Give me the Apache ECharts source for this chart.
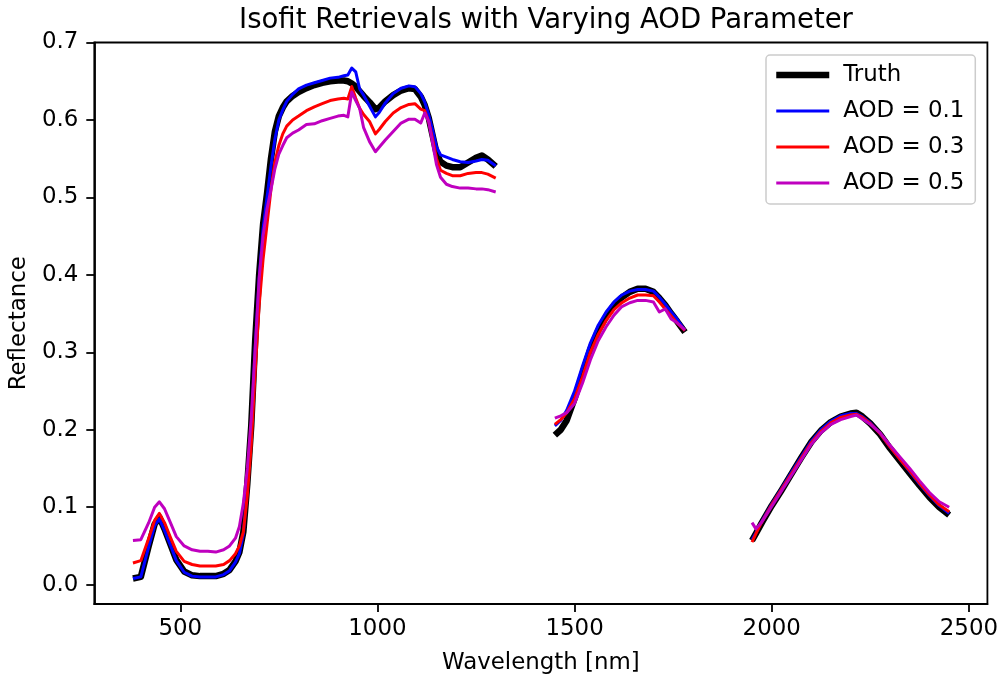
<!DOCTYPE html>
<html>
<head>
<meta charset="utf-8">
<script src="https://cdn.jsdelivr.net/npm/echarts@6/dist/echarts.min.js"></script>
<style>
html,body{margin:0;padding:0;background:#fff;}
#chart{width:1001px;height:681px;}
</style>
</head>
<body>
<div id="chart"></div>
<script>
// Wavelengths [nm]; null marks a gap between spectral segments
const wavelengths = [
  380, 400, 420, 435, 447,
  460, 475, 490, 510, 530,
  550, 570, 590, 610, 625,
  640, 650, 660, 670, 680,
  690, 700, 710, 720, 730,
  740, 750, 760, 770, 785,
  800, 820, 840, 860, 880,
  900, 915, 925, 935, 945,
  955, 965, 980, 995, 1005,
  1020, 1040, 1060, 1080, 1095,
  1110, 1120, 1130, 1140, 1150,
  1160, 1175, 1190, 1210, 1230,
  1250, 1265, 1280, 1300,
  null,
  1450, 1465, 1480, 1500, 1520,
  1540, 1560, 1580, 1600, 1620,
  1640, 1660, 1680, 1700, 1715,
  1730, 1745, 1760, 1780,
  null,
  1950, 1960, 1975, 2000, 2025,
  2050, 2075, 2100, 2125, 2150,
  2175, 2200, 2215, 2230, 2250,
  2275, 2300, 2325, 2350, 2375,
  2400, 2425, 2450
];

const truth = [
  0.008, 0.010, 0.050, 0.078, 0.087,
  0.072, 0.052, 0.032, 0.017, 0.012,
  0.011, 0.011, 0.011, 0.014, 0.019,
  0.030, 0.042, 0.068, 0.130, 0.205,
  0.315, 0.400, 0.465, 0.505, 0.550,
  0.585, 0.605, 0.616, 0.624, 0.631,
  0.636, 0.641, 0.645, 0.648, 0.650,
  0.651, 0.651, 0.650, 0.647, 0.643,
  0.637, 0.631, 0.623, 0.614, 0.616,
  0.624, 0.632, 0.638, 0.641, 0.640,
  0.630, 0.619, 0.603, 0.580, 0.557,
  0.546, 0.541, 0.539, 0.539, 0.545,
  0.551, 0.554, 0.549, 0.540,
  null,
  0.193, 0.200, 0.212, 0.240, 0.272,
  0.304, 0.328, 0.346, 0.361, 0.371,
  0.378, 0.382, 0.382, 0.378, 0.370,
  0.361, 0.350, 0.340, 0.326,
  null,
  0.057, 0.066, 0.080, 0.102, 0.122,
  0.143, 0.164, 0.184, 0.199, 0.210,
  0.217, 0.221, 0.222, 0.217, 0.208,
  0.194, 0.176, 0.160, 0.144, 0.128,
  0.113, 0.100, 0.090
];

const aod01 = [
  0.008, 0.010, 0.049, 0.076, 0.085,
  0.070, 0.051, 0.031, 0.016, 0.011,
  0.010, 0.010, 0.010, 0.013, 0.018,
  0.029, 0.040, 0.065, 0.125, 0.200,
  0.305, 0.395, 0.460, 0.500, 0.540,
  0.575, 0.600, 0.613, 0.624, 0.633,
  0.640, 0.645, 0.648, 0.651, 0.654,
  0.655, 0.657, 0.658, 0.667, 0.662,
  0.640, 0.632, 0.618, 0.604, 0.610,
  0.622, 0.634, 0.641, 0.644, 0.643,
  0.634, 0.623, 0.607, 0.587, 0.565,
  0.555, 0.552, 0.549, 0.546, 0.545,
  0.547, 0.549, 0.548, 0.541,
  null,
  0.205, 0.212, 0.225, 0.250, 0.282,
  0.312, 0.335, 0.352, 0.365, 0.374,
  0.379, 0.381, 0.381, 0.379, 0.371,
  0.362, 0.352, 0.343, 0.328,
  null,
  0.058, 0.067, 0.082, 0.104, 0.124,
  0.145, 0.165, 0.185, 0.200, 0.211,
  0.218, 0.221, 0.221, 0.217, 0.209,
  0.195, 0.178, 0.162, 0.146, 0.130,
  0.115, 0.102, 0.092
];

const aod03 = [
  0.028, 0.031, 0.060, 0.083, 0.092,
  0.080, 0.061, 0.043, 0.030, 0.026,
  0.024, 0.024, 0.024, 0.026, 0.031,
  0.040, 0.050, 0.068, 0.115, 0.180,
  0.275, 0.360, 0.420, 0.465, 0.510,
  0.546, 0.567, 0.582, 0.592, 0.600,
  0.605, 0.612, 0.617, 0.621, 0.625,
  0.627, 0.628, 0.627, 0.643, 0.628,
  0.615, 0.607, 0.598, 0.582, 0.588,
  0.598, 0.609, 0.616, 0.620, 0.621,
  0.614, 0.612, 0.598, 0.575, 0.550,
  0.535, 0.531, 0.528, 0.528, 0.531,
  0.532, 0.532, 0.530, 0.525,
  null,
  0.207, 0.213, 0.222, 0.240, 0.268,
  0.300, 0.323, 0.341, 0.355, 0.364,
  0.370, 0.374, 0.374, 0.373, 0.365,
  0.356, 0.347, 0.338, 0.328,
  null,
  0.055, 0.066, 0.081, 0.103, 0.123,
  0.143, 0.163, 0.183, 0.198, 0.209,
  0.216, 0.219, 0.220, 0.216, 0.208,
  0.195, 0.178, 0.162, 0.147, 0.131,
  0.116, 0.103, 0.094
];

const aod05 = [
  0.057, 0.058, 0.080, 0.100, 0.107,
  0.098, 0.080, 0.062, 0.050, 0.045,
  0.043, 0.043, 0.042, 0.045, 0.050,
  0.060, 0.075, 0.105, 0.150, 0.215,
  0.305, 0.395, 0.450, 0.485, 0.510,
  0.537, 0.556, 0.567, 0.577, 0.583,
  0.587, 0.594, 0.595, 0.599, 0.602,
  0.605, 0.606, 0.604, 0.636, 0.625,
  0.615, 0.590, 0.572, 0.559, 0.565,
  0.574, 0.585, 0.596, 0.601, 0.601,
  0.596, 0.609, 0.598, 0.570, 0.542,
  0.526, 0.517, 0.514, 0.512, 0.512,
  0.511, 0.511, 0.510, 0.507,
  null,
  0.215, 0.218, 0.222, 0.234, 0.260,
  0.290, 0.315, 0.333, 0.348, 0.359,
  0.364, 0.367, 0.367, 0.365, 0.352,
  0.356, 0.343, 0.338, 0.329,
  null,
  0.080, 0.072, 0.081, 0.101, 0.121,
  0.141, 0.161, 0.181, 0.196, 0.207,
  0.213, 0.217, 0.219, 0.214, 0.207,
  0.196, 0.180, 0.165, 0.150, 0.134,
  0.119, 0.107, 0.100
];

const seriesNames = ['Truth', 'AOD = 0.1', 'AOD = 0.3', 'AOD = 0.5'];
const xTicks = [500, 1000, 1500, 2000, 2500];
const yTicks = [0.0, 0.1, 0.2, 0.3, 0.4, 0.5, 0.6, 0.7];

const FONT = 'DejaVu Sans';
const FS = 22.9;
const COLORS = ['#000000', '#0000ff', '#ff0000', '#bf00bf'];
const WIDTHS = [6.5, 3, 3, 3];

function pairs(vals) {
  return wavelengths.map((w, i) => [w, vals[i]]);
}

const chart = echarts.init(document.getElementById('chart'), null, {renderer: 'canvas'});

function lineSeries(idx, vals) {
  return {
    name: seriesNames[idx],
    type: 'line',
    data: pairs(vals),
    showSymbol: false,
    symbol: 'none',
    legendIcon: 'none',
    connectNulls: false,
    smooth: false,
    lineStyle: {color: COLORS[idx], width: WIDTHS[idx], cap: 'butt', join: 'round'},
    itemStyle: {color: COLORS[idx]},
    emphasis: {disabled: true},
    animation: false
  };
}

chart.setOption({
  animation: false,
  backgroundColor: '#ffffff',
  title: {
    text: 'Isofit Retrievals with Varying AOD Parameter',
    left: 541,
    textAlign: 'center',
    top: 2,
    textStyle: {fontFamily: FONT, fontSize: 27.5, fontWeight: 'normal', color: '#000'}
  },
  grid: {
    left: 94, right: 13, top: 42.5, bottom: 77,
    show: true, borderColor: '#000', borderWidth: 1.8, backgroundColor: 'transparent'
  },
  legend: {
    orient: 'vertical',
    left: 766, top: 55,
    padding: [8.5, 11, 9.5, 7],
    itemWidth: 53, itemHeight: 23, itemGap: 13,
    backgroundColor: 'rgba(255,255,255,0.8)',
    borderColor: '#cccccc', borderWidth: 1.5, borderRadius: 4,
    itemStyle: {opacity: 0, borderWidth: 0},
    data: seriesNames.map((n, i) => ({
      name: n,
      lineStyle: {color: COLORS[i], width: WIDTHS[i], opacity: 1},
      itemStyle: {opacity: 0, borderWidth: 0}
    })),
    textStyle: {fontFamily: FONT, fontSize: FS, color: '#000', padding: [0, 0, 0, 9]},
    selectedMode: false
  },
  xAxis: {
    type: 'value',
    min: 282, max: 2547,
    name: 'Wavelength [nm]',
    nameLocation: 'middle',
    nameGap: 48,
    nameTextStyle: {fontFamily: FONT, fontSize: FS, color: '#000'},
    axisLine: {show: true, onZero: false, lineStyle: {color: '#000', width: 1.8}},
    axisTick: {show: true, length: 8, inside: false, customValues: xTicks, lineStyle: {color: '#000', width: 1.8}},
    axisLabel: {customValues: xTicks, margin: 14, fontFamily: FONT, fontSize: FS, color: '#000',
      formatter: v => String(Math.round(v))},
    splitLine: {show: false}
  },
  yAxis: {
    type: 'value',
    min: -0.025, max: 0.7,
    name: 'Reflectance',
    nameLocation: 'middle',
    nameRotate: 90,
    nameGap: 62,
    nameTextStyle: {fontFamily: FONT, fontSize: FS, color: '#000'},
    axisLine: {show: true, onZero: false, lineStyle: {color: '#000', width: 1.8}},
    axisTick: {show: true, length: 8, inside: false, customValues: yTicks, lineStyle: {color: '#000', width: 1.8}},
    axisLabel: {customValues: yTicks, margin: 16, fontFamily: FONT, fontSize: FS, color: '#000',
      formatter: v => Number(v).toFixed(1)},
    splitLine: {show: false}
  },
  series: [
    lineSeries(0, truth),
    lineSeries(1, aod01),
    lineSeries(2, aod03),
    lineSeries(3, aod05)
  ]
});
</script>
</body>
</html>
